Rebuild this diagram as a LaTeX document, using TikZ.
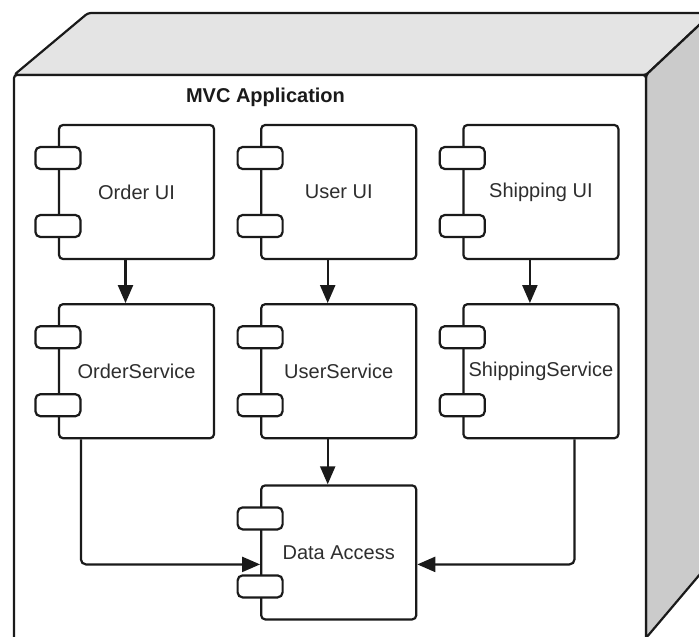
\documentclass[tikz,border=0pt]{standalone}
\usepackage{fontspec}
\setmainfont{Liberation Sans}
\usepackage{tikz}
\usetikzlibrary{arrows.meta, positioning}
\definecolor{umlInk}{HTML}{1A1A1A}
\definecolor{umlLabel}{HTML}{2E2E2E}
\definecolor{umlTop}{HTML}{E4E4E4}
\definecolor{umlSide}{HTML}{CBCBCB}

\begin{document}
\begin{tikzpicture}[
  x=1pt, y=-1pt,
  node distance=43pt and 45pt,
  comp/.style={draw=umlInk, line width=2.2pt, rounded corners=4pt, fill=white, inner sep=0pt,
               minimum width=155pt, minimum height=134pt,
               font=\fontsize{20}{24}\selectfont, text=umlLabel},
  port/.style={draw=umlInk, line width=2.2pt, rounded corners=5pt, fill=white, inner sep=0pt,
               minimum width=45pt, minimum height=22pt},
  title/.style={font=\bfseries\fontsize{20}{24}\selectfont, text=umlInk},
  face/.style={draw=umlInk, line width=2.2pt, line join=round, rounded corners=3pt},
  arr/.style={-{Triangle[length=18pt, width=15pt]}, line width=2.2pt, draw=umlInk}
]
\useasboundingbox (0,0) rectangle (699,637);
\clip (0,0) rectangle (699,637);

% deployment node
\filldraw[face, fill=umlTop] (14,75) -- (88,13) -- (712,13) -- (646,75) -- cycle;
\filldraw[face, fill=umlSide] (646,75) -- (712,13) -- (712,560) -- (646,638) -- cycle;
\filldraw[face, fill=white] (14,680) -- (14,75) -- (646,75) -- (646,680);

\node[title] (apptitle) at (265.5,97) {MVC Application};

\node[comp] (oui) at (136.5,192) {Order UI};
\node[comp, right=of oui] (uui) {User UI};
\node[comp, right=of uui] (sui) {Shipping UI};
\node[comp, below=of oui] (osvc) {OrderService};
\node[comp, below=of uui] (usvc) {UserService};
\node[comp, below=of sui] (ssvc) {ShippingService};
\node[comp, below=45pt of usvc] (dacc) {Data Access};

\node[port] (oui-a) at ([yshift=34pt]oui.west) {};
\node[port] (oui-b) at ([yshift=-34pt]oui.west) {};
\node[port] (uui-a) at ([yshift=34pt]uui.west) {};
\node[port] (uui-b) at ([yshift=-34pt]uui.west) {};
\node[port] (sui-a) at ([yshift=34pt]sui.west) {};
\node[port] (sui-b) at ([yshift=-34pt]sui.west) {};
\node[port] (osvc-a) at ([yshift=34pt]osvc.west) {};
\node[port] (osvc-b) at ([yshift=-34pt]osvc.west) {};
\node[port] (usvc-a) at ([yshift=34pt]usvc.west) {};
\node[port] (usvc-b) at ([yshift=-34pt]usvc.west) {};
\node[port] (ssvc-a) at ([yshift=34pt]ssvc.west) {};
\node[port] (ssvc-b) at ([yshift=-34pt]ssvc.west) {};
\node[port] (dacc-a) at ([yshift=34pt]dacc.west) {};
\node[port] (dacc-b) at ([yshift=-34pt]dacc.west) {};

\draw[arr] ([xshift=-11pt]oui.south) -- ([xshift=-11pt]osvc.north);
\draw[arr] ([xshift=-11pt]uui.south) -- ([xshift=-11pt]usvc.north);
\draw[arr] ([xshift=-11pt]sui.south) -- ([xshift=-11pt]ssvc.north);
\draw[arr] ([xshift=-11pt]usvc.south) -- ([xshift=-11pt]dacc.north);
\draw[arr, rounded corners=5pt] ([xshift=23pt]osvc.south west) |- ([yshift=-12pt]dacc.west);
\draw[arr, rounded corners=5pt] ([xshift=-45pt]ssvc.south east) |- ([yshift=-12pt]dacc.east);
\end{tikzpicture}
\end{document}
